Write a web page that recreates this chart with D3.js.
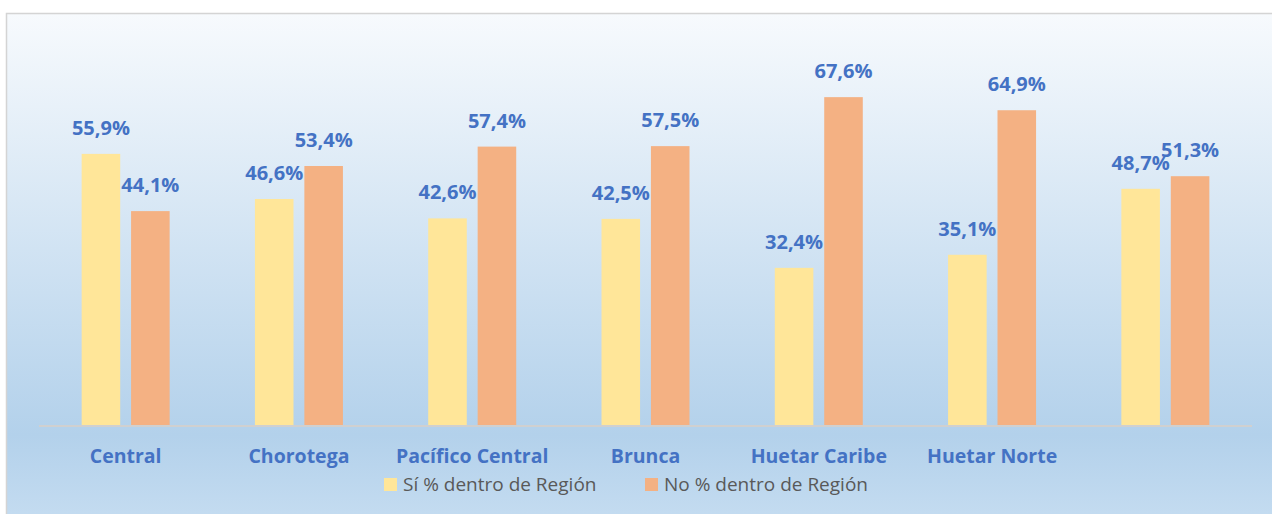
<!DOCTYPE html>
<html>
<head>
<meta charset="utf-8">
<script src="https://cdn.jsdelivr.net/npm/d3@7"></script>
<style>
  html, body { margin: 0; padding: 0; background: #fff; }
  svg { display: block; }
</style>
</head>
<body>
<div id="chart"></div>
<script>
(function(){

    const width = 1272, height = 514;

    // data
    const regions = ["Central", "Chorotega", "Pacífico Central", "Brunca", "Huetar Caribe", "Huetar Norte", ""];
    const siValues = [55.9, 46.6, 42.6, 42.5, 32.4, 35.1, 48.7];
    const noValues = [44.1, 53.4, 57.4, 57.5, 67.6, 64.9, 51.3];
    const seriesNames = ["Sí % dentro de Región", "No % dentro de Región"];
    const seriesColors = ["#ffe699", "#f4b183"];

    const data = regions.map(function(r, i) {
        return { region: r, key: i, values: [siValues[i], noValues[i]] };
    });

    let svg = d3.select("#chart")
        .append("svg")
        .attr("width", width)
        .attr("height", height);

    // background gradient
    let grad = svg.append("defs").append("linearGradient")
        .attr("id", "bg")
        .attr("x1", 0).attr("y1", 0).attr("x2", 0).attr("y2", 1);
    grad.append("stop").attr("offset", "0%").attr("stop-color", "#f7fafd");
    grad.append("stop").attr("offset", "82%").attr("stop-color", "#b3d1eb");
    grad.append("stop").attr("offset", "100%").attr("stop-color", "#c6ddf1");

    svg.append("rect")
        .attr("x", 6.5).attr("y", 13.5)
        .attr("width", width).attr("height", height)
        .attr("fill", "url(#bg)")
        .attr("stroke", "#d4d4d4")
        .attr("stroke-width", 1.5);

    const baseY = 425;

    // x scales
    let x = d3.scaleBand()
        .domain(data.map(function(d) { return d.key; }))
        .range([39, 1252]);

    let xInner = d3.scaleBand()
        .domain([0, 1])
        .range([x.bandwidth() / 2 - 44, x.bandwidth() / 2 + 44])
        .paddingInner(0.22);

    // y scale
    let y = d3.scaleLinear()
        .domain([0, 100])
        .range([baseY, baseY - 485]);

    // bars
    let groups = svg.selectAll(".grp").data(data).enter()
        .append("g")
        .attr("class", "grp")
        .attr("transform", function(d) { return `translate(${x(d.key)}, 0)`; });

    groups.selectAll("rect")
        .data(function(d) { return d.values.map(function(v, j) { return { j: j, v: v }; }); })
        .enter()
        .append("rect")
        .attr("x", function(d) { return xInner(d.j); })
        .attr("y", function(d) { return y(d.v); })
        .attr("width", xInner.bandwidth())
        .attr("height", function(d) { return y(0) - y(d.v); })
        .attr("fill", function(d) { return seriesColors[d.j]; });

    // value labels
    groups.selectAll("text.val")
        .data(function(d) { return d.values.map(function(v, j) { return { j: j, v: v }; }); })
        .enter()
        .append("text")
        .attr("class", "val")
        .attr("x", function(d) { return xInner(d.j) + xInner.bandwidth() / 2; })
        .attr("y", function(d) { return y(d.v) - 19; })
        .attr("text-anchor", "middle")
        .style("font-family", "'Open Sans', sans-serif")
        .style("font-weight", "bold")
        .style("font-size", "20px")
        .style("fill", "#4472c4")
        .text(function(d) { return d.v.toFixed(1).replace(".", ",") + "%"; });

    // x axis line
    svg.append("line")
        .attr("x1", 39).attr("x2", 1252)
        .attr("y1", baseY + 1).attr("y2", baseY + 1)
        .attr("stroke", "#d0d0d0")
        .attr("stroke-width", 2);

    // category labels
    svg.selectAll("text.cat").data(data).enter()
        .append("text")
        .attr("class", "cat")
        .attr("x", function(d) { return x(d.key) + x.bandwidth() / 2; })
        .attr("y", 463)
        .attr("text-anchor", "middle")
        .style("font-family", "'Open Sans', sans-serif")
        .style("font-weight", "bold")
        .style("font-size", "19.5px")
        .style("fill", "#4472c4")
        .text(function(d) { return d.region; });

    // legend
    const legendX = [384, 645];
    seriesNames.forEach(function(name, i) {
        svg.append("rect")
            .attr("x", legendX[i]).attr("y", 478)
            .attr("width", 13).attr("height", 13)
            .attr("fill", seriesColors[i]);
        svg.append("text")
            .attr("x", legendX[i] + 19).attr("y", 491)
            .style("font-family", "'Open Sans', sans-serif")
            .style("font-size", "19px")
            .style("fill", "#595959")
            .text(name);
    });

})();
</script>
</body>
</html>
